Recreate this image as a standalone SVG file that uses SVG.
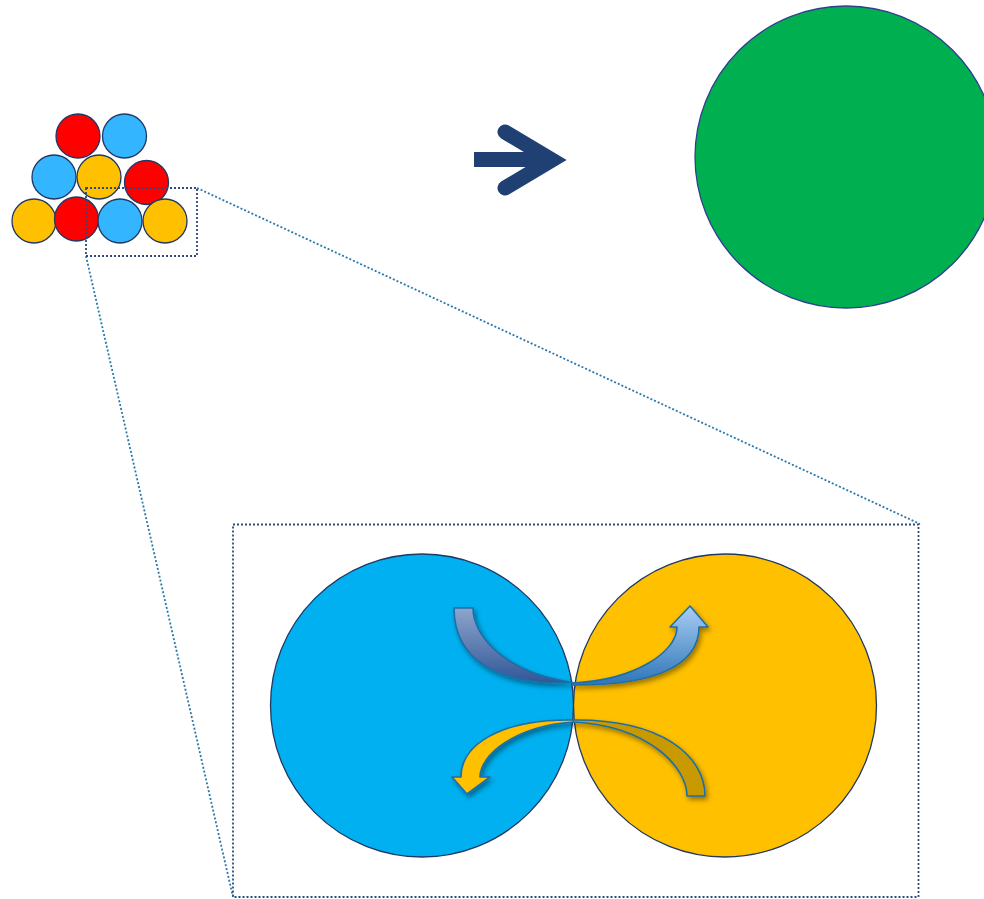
<svg xmlns="http://www.w3.org/2000/svg" width="984" height="899" viewBox="0 0 984 899">
  <style>
    .ball { stroke: #203864; stroke-width: 1.3; }
    .red { fill: #ff0000; }
    .sky { fill: #33b5ff; }
    .gold { fill: #ffc000; }
    .frame { fill: none; stroke: #2f4a7a; stroke-width: 1.8; stroke-dasharray: 2 2; }
    .lead { fill: none; stroke: #2a78ad; stroke-width: 1.8; stroke-dasharray: 2 2; }
    .flow { stroke: #1f6ea6; stroke-width: 1.6; stroke-linejoin: round; filter: url(#shadow); }
  </style>
  <defs>
    <filter id="shadow" x="-20%" y="-20%" width="150%" height="150%">
      <feDropShadow dx="2" dy="3" stdDeviation="2.5" flood-color="#000" flood-opacity="0.4"/>
    </filter>
    <linearGradient id="gradOut" x1="0" y1="608" x2="0" y2="684" gradientUnits="userSpaceOnUse">
      <stop offset="0" stop-color="#8ea5cc"/>
      <stop offset="1" stop-color="#2f5597"/>
    </linearGradient>
    <linearGradient id="gradIn" x1="0" y1="606" x2="0" y2="685" gradientUnits="userSpaceOnUse">
      <stop offset="0" stop-color="#a9cdf4"/>
      <stop offset="1" stop-color="#2e75b6"/>
    </linearGradient>
  </defs>

  <!-- cluster of small particles -->
  <g id="cluster">
    <circle class="ball red" cx="78" cy="136" r="22"/>
    <circle class="ball sky" cx="124.5" cy="136" r="22"/>
    <circle class="ball sky" cx="54" cy="177" r="22"/>
    <circle class="ball gold" cx="99" cy="177" r="22"/>
    <circle class="ball red" cx="146.5" cy="182.5" r="22"/>
    <circle class="ball gold" cx="34" cy="221" r="22"/>
    <circle class="ball red" cx="76.5" cy="219" r="22"/>
    <circle class="ball sky" cx="120" cy="221" r="22"/>
    <circle class="ball gold" cx="165" cy="221" r="22"/>
  </g>

  <!-- reaction arrow -->
  <g id="reaction-arrow" fill="none" stroke="#203f73">
    <line x1="474" y1="159.5" x2="540" y2="159.5" stroke-width="15"/>
    <polyline points="505,132 552,160 505,188" stroke-width="15" stroke-linecap="round" stroke-linejoin="miter" stroke-miterlimit="10"/>
  </g>

  <!-- merged particle -->
  <g id="merged">
    <circle cx="846" cy="157" r="151" fill="#00b050" stroke="#2f3f8f" stroke-width="1.3"/>
  </g>

  <!-- magnification guides -->
  <g id="connectors">
    <line class="lead" x1="197" y1="188" x2="920" y2="524"/>
    <line class="lead" x1="86" y1="256" x2="233" y2="897"/>
  </g>
  <rect id="detail-frame" class="frame" x="86" y="188" width="111" height="68"/>
  <rect id="zoom-frame" class="frame" x="233" y="524.5" width="685.5" height="372.5"/>

  <!-- contact of two particles -->
  <g id="left-particle">
    <circle cx="422" cy="705.5" r="151.5" fill="#00b0f0" stroke="#203864" stroke-width="1.3"/>
  </g>
  <g id="right-particle">
    <circle cx="725" cy="705.5" r="151.5" fill="#ffc000" stroke="#203864" stroke-width="1.3"/>
  </g>

  <!-- exchange arrows -->
  <g id="flow-out">
    <path class="flow" fill="url(#gradOut)" d="M454,608 L473,608 C473,636 505,673 573,682.5 C498,686 454,660 454,608 Z"/>
  </g>
  <g id="flow-in">
    <path class="flow" fill="url(#gradIn)" d="M573,683 C635,680 677,652 677,627 L670,627 L690,606 L708,627 L699,627 C699,665 655,686 573,685 Z"/>
  </g>
  <g id="flow-back">
    <path class="flow" fill="#ffc000" d="M573,720 C500,719 461,745 461,777 L452,777 L467,794 L490,777 L480,777 C480,755 515,726 573,722 Z"/>
  </g>
  <g id="flow-over">
    <path class="flow" fill="#c99a00" d="M573,720 C662,719 705,756 705,796 L687,796 C687,768 650,726 573,722 Z"/>
  </g>
</svg>
